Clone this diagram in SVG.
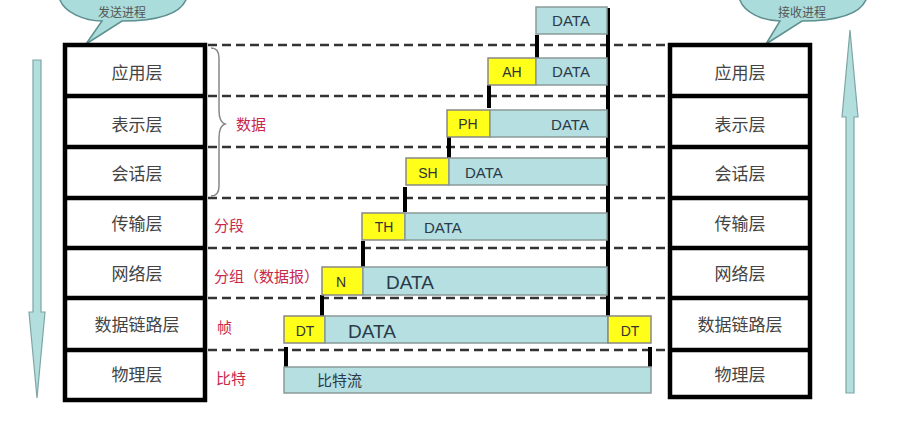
<svg xmlns="http://www.w3.org/2000/svg" width="901" height="429" viewBox="0 0 901 429">
<style>
.lay{font-family:"Noto Sans CJK SC","Noto Sans",sans-serif;font-size:17px;fill:#444;text-anchor:middle}
.red{font-family:"Noto Sans CJK SC","Noto Sans",sans-serif;font-size:15px;fill:#c8284a}
.dash{stroke:#333;stroke-width:2.5;stroke-dasharray:9 5;fill:none}
.box{fill:#fff;stroke:#000;stroke-width:4.5}
.teal{fill:#b5dfe0;stroke:#8a9a9a;stroke-width:1.5}
.yel{fill:#ffff1a;stroke:#888;stroke-width:1.5}
.tick{stroke:#000;stroke-width:4}
.hd{font-family:"Liberation Sans",Arial,sans-serif;font-size:14px;fill:#333;text-anchor:middle}
.dt{font-family:"Liberation Sans",Arial,sans-serif;font-size:15px;fill:#2a3a4a}
.arr{fill:#b2dede;stroke:#7fa5a5;stroke-width:1.2}
.bub{fill:#a9dcda;stroke:#5f8f8f;stroke-width:1.5}
.bt{font-family:"Noto Sans CJK SC","Noto Sans",sans-serif;font-size:12px;fill:#555;text-anchor:middle}
</style>
<rect width="901" height="429" fill="#fff"/>
<g id="bubble-send">
<path class="bub" d="M58,-10 C58,15 90,21 102,21 L86,44 L122,21 C160,21 188,13 188,-10 Z"/>
<text class="bt" x="122" y="17">发送进程</text>
</g>
<g id="bubble-recv">
<path class="bub" d="M738,-10 C738,15 768,21 780,21 L766,44 L802,21 C840,21 868,13 868,-10 Z"/>
<text class="bt" x="802" y="17">接收进程</text>
</g>
<g id="connectors">
<line class="dash" x1="208" y1="45" x2="668" y2="45"/>
<line class="dash" x1="208" y1="96" x2="668" y2="96"/>
<line class="dash" x1="208" y1="147" x2="668" y2="147"/>
<line class="dash" x1="208" y1="198" x2="668" y2="198"/>
<line class="dash" x1="208" y1="248" x2="668" y2="248"/>
<line class="dash" x1="208" y1="298" x2="668" y2="298"/>
<line class="dash" x1="208" y1="350" x2="668" y2="350"/>
<line x1="608" y1="8" x2="608" y2="330" stroke="#000" stroke-width="4"/>
<line class="tick" x1="537" y1="35" x2="537" y2="58"/>
<line class="tick" x1="489" y1="85" x2="489" y2="108"/>
<line class="tick" x1="449" y1="137" x2="449" y2="158"/>
<line class="tick" x1="405" y1="187" x2="405" y2="212"/>
<line class="tick" x1="363" y1="241" x2="363" y2="267"/>
<line class="tick" x1="322" y1="295" x2="322" y2="316"/>
<line class="tick" x1="286" y1="347" x2="286" y2="367"/>
<line class="tick" x1="650" y1="347" x2="650" y2="367"/>
<path d="M211,48 q8,0 8,10 v52 q0,12 6,14 q-6,2 -6,14 v48 q0,10 -8,10" fill="none" stroke="#888" stroke-width="1.5"/>
<polygon class="arr" points="33,60 41,60 41,312 45,312 37,398 29,312 33,312"/>
<polygon class="arr" points="846,393 854,393 854,117 858,117 850,30 842,117 846,117"/>
</g>
<g id="left-stack">
<rect class="box" x="65" y="45" width="140" height="355"/>
<line x1="65" y1="96" x2="205" y2="96" stroke="#000" stroke-width="4.5"/>
<line x1="65" y1="147" x2="205" y2="147" stroke="#000" stroke-width="4.5"/>
<line x1="65" y1="198" x2="205" y2="198" stroke="#000" stroke-width="4.5"/>
<line x1="65" y1="248" x2="205" y2="248" stroke="#000" stroke-width="4.5"/>
<line x1="65" y1="298" x2="205" y2="298" stroke="#000" stroke-width="4.5"/>
<line x1="65" y1="350" x2="205" y2="350" stroke="#000" stroke-width="4.5"/>
<text class="lay" x="137" y="79">应用层</text>
<text class="lay" x="137" y="131">表示层</text>
<text class="lay" x="137" y="180">会话层</text>
<text class="lay" x="137" y="230">传输层</text>
<text class="lay" x="137" y="280">网络层</text>
<text class="lay" x="137" y="331">数据链路层</text>
<text class="lay" x="137" y="381">物理层</text>
</g>
<g id="right-stack">
<rect class="box" x="670" y="45" width="140" height="352"/>
<line x1="670" y1="96" x2="810" y2="96" stroke="#000" stroke-width="4.5"/>
<line x1="670" y1="147" x2="810" y2="147" stroke="#000" stroke-width="4.5"/>
<line x1="670" y1="198" x2="810" y2="198" stroke="#000" stroke-width="4.5"/>
<line x1="670" y1="248" x2="810" y2="248" stroke="#000" stroke-width="4.5"/>
<line x1="670" y1="298" x2="810" y2="298" stroke="#000" stroke-width="4.5"/>
<line x1="670" y1="350" x2="810" y2="350" stroke="#000" stroke-width="4.5"/>
<text class="lay" x="740" y="79">应用层</text>
<text class="lay" x="740" y="131">表示层</text>
<text class="lay" x="740" y="180">会话层</text>
<text class="lay" x="740" y="230">传输层</text>
<text class="lay" x="740" y="280">网络层</text>
<text class="lay" x="740" y="331">数据链路层</text>
<text class="lay" x="740" y="381">物理层</text>
</g>
<g id="labels">
<text class="red" x="236" y="130">数据</text>
<text class="red" x="214" y="231">分段</text>
<text class="red" x="214" y="282">分组（数据报）</text>
<text class="red" x="217" y="333">帧</text>
<text class="red" x="216" y="384">比特</text>
</g>
<g id="pdu-app-data">
<rect class="teal" x="536" y="7" width="71" height="27"/>
<text class="dt" x="571" y="26" text-anchor="middle">DATA</text>
</g>
<g id="pdu-app">
<rect class="yel" x="488" y="58" width="48" height="27"/>
<rect class="teal" x="536" y="58" width="71" height="27"/>
<text class="hd" x="512" y="77">AH</text>
<text class="dt" x="571" y="77" text-anchor="middle">DATA</text>
</g>
<g id="pdu-pres">
<rect class="yel" x="447" y="110" width="43" height="27"/>
<rect class="teal" x="490" y="110" width="117" height="27"/>
<text class="hd" x="468" y="129">PH</text>
<text class="dt" x="570" y="130" text-anchor="middle">DATA</text>
</g>
<g id="pdu-sess">
<rect class="yel" x="406" y="158" width="43" height="27"/>
<rect class="teal" x="449" y="158" width="158" height="27"/>
<text class="hd" x="428" y="178">SH</text>
<text class="dt" x="465" y="178">DATA</text>
</g>
<g id="pdu-trans">
<rect class="yel" x="362" y="213" width="43" height="27"/>
<rect class="teal" x="405" y="213" width="202" height="27"/>
<text class="hd" x="384" y="232">TH</text>
<text class="dt" x="424" y="233">DATA</text>
</g>
<g id="pdu-net">
<rect class="yel" x="322" y="267" width="41" height="28"/>
<rect class="teal" x="363" y="267" width="244" height="28"/>
<text class="hd" x="341" y="287">N</text>
<text class="dt" x="386" y="289" style="font-size:19px">DATA</text>
</g>
<g id="pdu-link">
<rect class="yel" x="284" y="316" width="41" height="27"/>
<rect class="teal" x="325" y="316" width="283" height="27"/>
<rect class="yel" x="608" y="316" width="43" height="27"/>
<text class="hd" x="305" y="336">DT</text>
<text class="dt" x="348" y="338" style="font-size:19px">DATA</text>
<text class="hd" x="630" y="336">DT</text>
</g>
<g id="pdu-phys">
<rect class="teal" x="284" y="367" width="367" height="26"/>
<text x="317" y="386" style="font-family:'Noto Sans CJK SC',sans-serif;font-size:15px;fill:#2a3a4a">比特流</text>
</g>
</svg>
